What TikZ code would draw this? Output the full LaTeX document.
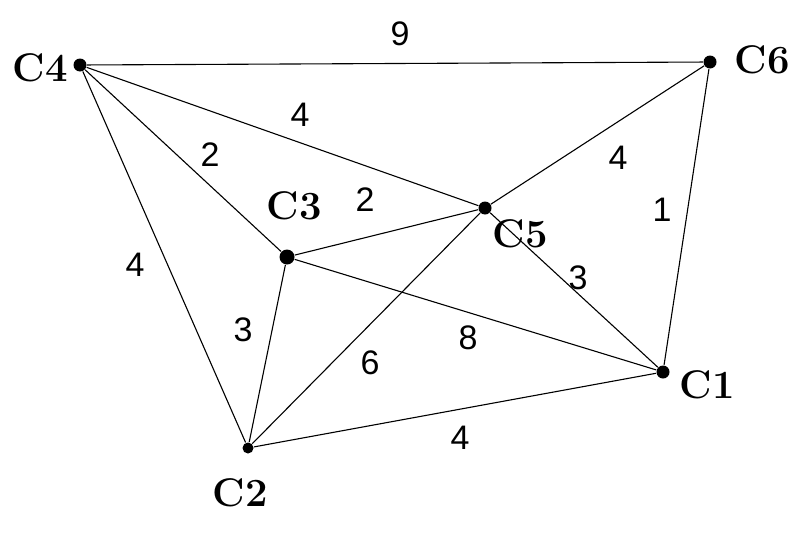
\documentclass[tikz,border=0pt]{standalone}
\usepackage{fontspec}
\newfontfamily\numfont{Liberation Sans}
\begin{document}
\begin{tikzpicture}[x=1pt,y=-1pt,line width=1.1pt]
	%styles
	\tikzset{city/.style={circle, fill=black, inner sep=0pt, minimum size=13pt},
		cname/.style={font=\fontsize{40}{40}\selectfont\bfseries},
		wt/.style={font=\numfont\fontsize{34}{34}\selectfont}}
	\useasboundingbox (0,0) rectangle (802,538);
	%city locations
	\node[city] (c4) at (80,65) {};
	\node[city] (c6) at (710,62) {};
	\node[city] (c5) at (485,208) {};
	\node[city, minimum size=15pt] (c3) at (287,257) {};
	\node[city] (c1) at (663,372) {};
	\node[city, minimum size=11pt] (c2) at (248,448) {};
	%city names
	\node[cname] (n4) at (40,68) {C4};
	\node[cname] (n6) at (762,60) {C6};
	\node[cname] (n3) at (294,206) {C3};
	\node[cname] (n5) at (520,234) {C5};
	\node[cname] (n1) at (707,385) {C1};
	\node[cname] (n2) at (240,493) {C2};
	%roads
	\draw (c4) -- (c6);
	\draw (c4) -- (c5);
	\draw (c4) -- (c3);
	\draw (c4) -- (c2);
	\draw (c3) -- (c5);
	\draw (c3) -- (c2);
	\draw (c3) -- (c1);
	\draw (c5) -- (c6);
	\draw (c5) -- (c1);
	\draw (c5) -- (c2);
	\draw (c6) -- (c1);
	\draw (c2) -- (c1);
	%weights
	\node[wt] (w46) at (400,34) {9};
	\node[wt] (w45) at (300,115) {4};
	\node[wt] (w43) at (210,155) {2};
	\node[wt] (w35) at (365,200) {2};
	\node[wt] (w56) at (618,158) {4};
	\node[wt] (w61) at (662,210) {1};
	\node[wt] (w51) at (578,278) {3};
	\node[wt] (w31) at (468,338) {8};
	\node[wt] (w32) at (243,330) {3};
	\node[wt] (w52) at (370,363) {6};
	\node[wt] (w42) at (135,265) {4};
	\node[wt] (w21) at (460,438) {4};
\end{tikzpicture}
\end{document}
